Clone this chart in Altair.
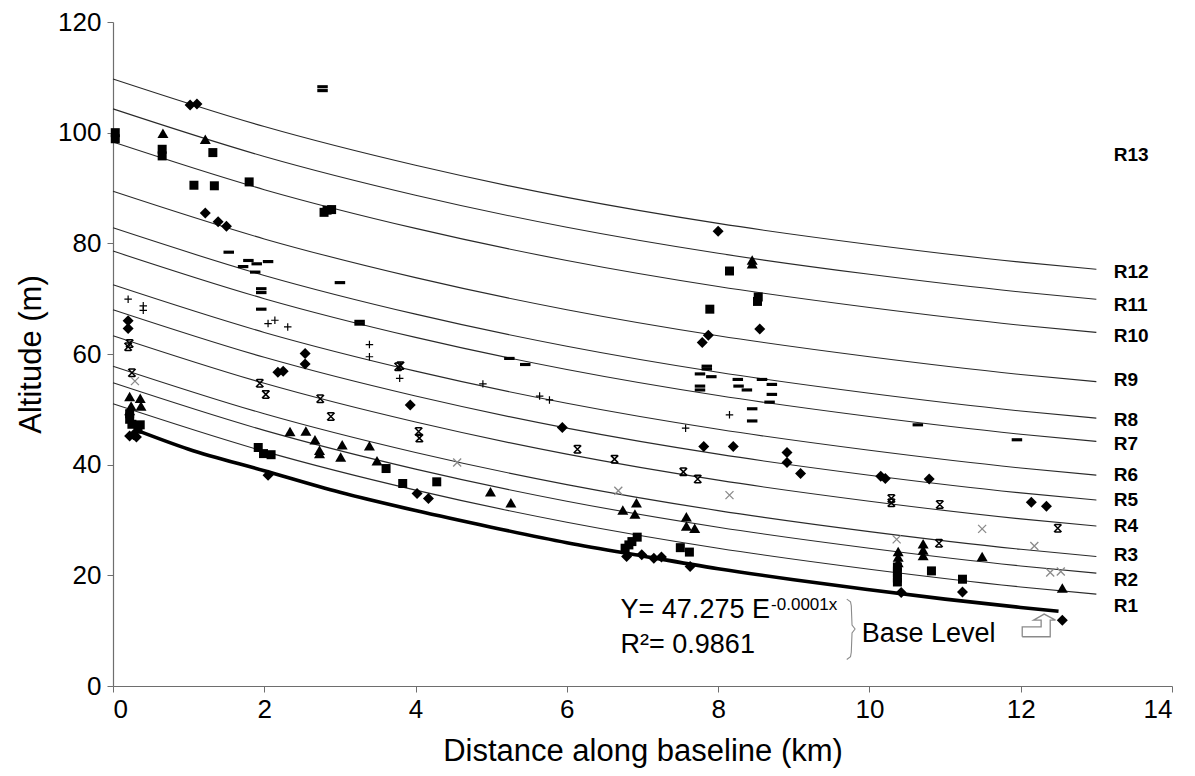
import altair as alt
import pandas as pd

# ---------------- data ----------------
# thin terrace curves R1..R12, sampled at these distances (km)
curve_x = [0, 2, 4, 6, 8, 10, 12, 13]
R1 = [51.0, 42.4, 35.4, 29.6, 24.9, 21.1, 17.9, 16.6]
R2 = [54.8, 46.2, 39.2, 33.4, 28.7, 24.9, 21.7, 20.4]
R3 = [57.8, 49.2, 42.2, 36.4, 31.7, 27.9, 24.7, 23.4]
R4 = [63.3, 54.7, 47.7, 41.9, 37.2, 33.4, 30.2, 28.9]
R5 = [68.0, 59.4, 52.4, 46.6, 41.9, 38.1, 34.9, 33.6]
R6 = [72.5, 63.9, 56.9, 51.1, 46.4, 42.6, 39.4, 38.1]
R7 = [78.6, 70.0, 63.0, 57.2, 52.5, 48.7, 45.5, 44.2]
R8 = [82.8, 74.2, 67.2, 61.4, 56.7, 52.9, 49.7, 48.4]
R9 = [89.4, 80.8, 73.8, 68.0, 63.3, 59.5, 56.3, 55.0]
R10 = [98.3, 89.7, 82.7, 76.9, 72.2, 68.4, 65.2, 63.9]
R11 = [104.3, 95.7, 88.7, 82.9, 78.2, 74.4, 71.2, 69.9]
R12 = [109.7, 101.1, 94.1, 88.3, 83.6, 79.8, 76.6, 75.3]
curve_names = ["R1", "R2", "R3", "R4", "R5", "R6", "R7", "R8", "R9", "R10", "R11", "R12"]
curve_vals = [R1, R2, R3, R4, R5, R6, R7, R8, R9, R10, R11, R12]

# thick base level
base_x = [0.3, 1, 2, 3, 4, 5, 6, 7, 8, 9, 10, 11, 12, 12.5]
base_y = [46.3, 42.8, 38.9, 35.0, 31.7, 28.7, 25.9, 23.5, 21.2, 19.2, 17.4, 15.7, 14.2, 13.5]

# right-hand labels
label_text = ["R13", "R12", "R11", "R10", "R9", "R8", "R7", "R6", "R5", "R4", "R3", "R2", "R1"]
label_y = [96.0, 74.8, 68.9, 63.3, 55.3, 48.1, 43.7, 38.1, 33.6, 28.9, 23.7, 19.2, 14.5]

# markers
diamond_x = [1.02, 1.11, 1.22, 1.39, 1.50, 0.20, 0.20, 2.54, 2.54, 2.18, 2.25, 3.93,
             0.27, 0.31, 0.22, 2.05, 4.02, 4.17, 5.94, 7.81, 8.20, 8.91, 8.91, 9.09,
             10.15, 10.21, 10.79, 12.14, 12.34, 8.55, 7.87, 7.79, 8.00,
             6.79, 6.99, 7.15, 7.25, 7.63, 10.42, 11.23, 12.55]
diamond_y = [105.0, 105.2, 85.5, 83.9, 83.1, 66.0, 64.6, 60.1, 58.2, 56.7, 56.9, 50.8,
             45.4, 45.0, 45.2, 38.1, 34.8, 33.9, 46.7, 43.3, 43.3, 42.2, 40.4, 38.4,
             37.9, 37.5, 37.4, 33.2, 32.5, 64.5, 63.4, 62.1, 82.2,
             23.4, 23.7, 23.1, 23.3, 21.6, 16.9, 17.0, 11.9]

square_x = [0.03, 0.03, 0.65, 0.65, 1.32, 1.07, 1.34, 1.80, 2.79, 2.83, 2.89,
            0.22, 0.22, 0.25, 0.36, 0.33, 1.92, 1.99, 2.09, 3.61, 3.83, 4.28,
            8.52, 8.53, 7.89, 8.15, 6.93, 6.86, 6.82, 6.77, 7.50, 7.62,
            10.37, 10.37, 10.37, 10.37, 10.82, 11.23]
square_y = [100.0, 98.9, 97.0, 95.8, 96.4, 90.5, 90.4, 91.1, 85.6, 86.0, 86.1,
            49.2, 48.2, 47.3, 47.2, 46.4, 43.1, 42.0, 41.8, 39.3, 36.6, 36.9,
            69.5, 70.3, 68.1, 75.0, 26.9, 26.1, 25.5, 24.9, 25.0, 24.2,
            21.5, 20.5, 19.5, 18.8, 20.8, 19.3]

triangle_x = [0.66, 1.22, 0.22, 0.36, 0.24, 0.37, 0.22, 2.34, 2.55, 2.67, 2.73, 2.73,
              3.03, 3.01, 3.39, 3.49, 4.99, 5.26, 6.74, 6.92, 6.90, 7.58, 7.58, 7.69,
              8.45, 8.45, 10.38, 10.38, 10.38, 10.71, 10.71, 10.71, 11.49, 12.55]
triangle_y = [99.9, 98.8, 52.3, 52.0, 50.6, 50.6, 49.8, 46.0, 46.1, 44.5, 42.6, 42.0,
              43.6, 41.4, 43.4, 40.7, 35.1, 33.1, 31.8, 33.1, 31.1, 30.6, 28.9, 28.5,
              77.0, 76.3, 24.3, 23.3, 22.3, 25.7, 24.6, 23.6, 23.4, 17.7]

dash_x = [2.77, 2.77, 1.53, 1.79, 1.90, 2.05, 1.72, 1.88, 3.00, 1.96, 1.96, 1.96, 3.26, 3.26,
          5.24, 5.45, 7.85, 7.85, 7.76, 7.91, 7.76, 7.76, 8.26, 8.27, 8.38, 8.58, 8.71,
          8.71, 8.68, 8.45, 8.45, 10.64, 11.95]
dash_y = [108.3, 107.6, 78.4, 76.9, 76.3, 76.7, 75.8, 74.8, 72.9, 71.8, 71.1, 68.1, 65.9, 65.4,
          59.2, 58.1, 57.8, 57.3, 56.4, 55.9, 54.2, 53.5, 55.4, 54.2, 53.5, 55.4, 54.5,
          52.7, 51.3, 50.1, 47.9, 47.2, 44.5]

plus_x = [0.20, 0.40, 0.40, 2.05, 2.14, 2.31, 3.39, 3.39, 3.79, 4.89, 5.64, 5.77, 8.15, 7.57]
plus_y = [69.9, 68.7, 67.9, 65.5, 66.1, 64.9, 61.7, 59.5, 55.6, 54.6, 52.4, 51.7, 49.0, 46.6]

star_x = [0.22, 0.20, 0.25, 1.94, 2.02, 2.74, 2.88, 3.77, 3.80, 4.04, 4.05, 6.14, 6.63,
          7.54, 7.73, 10.29, 10.29, 10.93, 12.49, 10.92]
star_y = [61.9, 61.3, 56.6, 54.7, 52.7, 51.9, 48.7, 57.7, 57.9, 46.0, 44.8, 42.8, 41.0,
          38.7, 37.4, 33.9, 33.1, 32.8, 28.5, 25.8]

grayx_x = [0.29, 4.55, 6.68, 8.15, 10.36, 11.49, 12.18, 12.39, 12.53]
grayx_y = [55.1, 40.4, 35.3, 34.5, 26.5, 28.4, 25.3, 20.5, 20.7]

# annotation outlines (brace and bent arrow) in data units
brace_x = [9.70, 9.75, 9.76, 9.77, 9.81, 9.77, 9.76, 9.75, 9.70]
brace_y = [15.7, 15.2, 14.5, 11.0, 10.3, 9.6, 6.1, 5.3, 4.8]
arrow_x = [12.02, 12.39, 12.39, 12.46, 12.31, 12.17, 12.27, 12.27, 12.02, 12.02]
arrow_y = [8.9, 8.9, 11.9, 11.9, 13.0, 11.9, 11.9, 10.7, 10.7, 8.9]

# annotation texts
ann_text = ["Y= 47.275 E", "-0.0001x", "R\u00b2= 0.9861", "Base Level"]
ann_x = [6.71, 8.70, 6.71, 9.90]
ann_y = [12.3, 13.8, 5.9, 7.9]
ann_size = [27, 17, 27, 27]

# ---------------- chart ----------------
FONT = "Liberation Sans"
xs = alt.Scale(domain=[0, 14], nice=False, zero=True)
ys = alt.Scale(domain=[0, 120], nice=False, zero=True)
x_enc = alt.X("x:Q", scale=xs, title="Distance along baseline (km)",
              axis=alt.Axis(values=[0, 2, 4, 6, 8, 10, 12, 14], grid=False))
y_enc = alt.Y("y:Q", scale=ys, title="Altitude (m)",
              axis=alt.Axis(values=[0, 20, 40, 60, 80, 100, 120], grid=False))

rows = []
for name, vals in zip(curve_names, curve_vals):
    for xv, yv in zip(curve_x, vals):
        rows.append({"curve": name, "x": xv, "y": yv})
curve_df = pd.DataFrame(rows)

curves = alt.Chart(curve_df).mark_line(color="#2a2a2a", strokeWidth=1.1, interpolate="monotone").encode(
    x=x_enc, y=y_enc, detail="curve:N")

base = alt.Chart(pd.DataFrame({"x": base_x, "y": base_y})).mark_line(
    color="black", strokeWidth=3.6, interpolate="monotone").encode(x=x_enc, y=y_enc)


def pts(xv, yv, shape, size, filled, color, sw=1.0):
    df = pd.DataFrame({"x": xv, "y": yv})
    return alt.Chart(df).mark_point(shape=shape, size=size, filled=filled, color=color,
                                    opacity=1, strokeWidth=sw).encode(x=x_enc, y=y_enc)


DASH = "M-1,-0.3L1,-0.3L1,0.3L-1,0.3Z"
PLUS = "M-1,0L1,0M0,-1L0,1"
STAR = "M-1,-1L1,1M-1,1L1,-1M-0.8,-1L0.8,-1M-0.8,1L0.8,1"
XMARK = "M-1,-1L1,1M-1,1L1,-1"

diam = pts(diamond_x, diamond_y, "diamond", 121, True, "black")
sq = pts(square_x, square_y, "square", 81, True, "black")
tri = pts(triangle_x, triangle_y, "triangle-up", 121, True, "black")
dash = pts(dash_x, dash_y, DASH, 110, True, "black")
plus = pts(plus_x, plus_y, PLUS, 56, False, "black", 1.2)
star = pts(star_x, star_y, STAR, 56, False, "black", 1.5)
grayx = pts(grayx_x, grayx_y, XMARK, 64, False, "#8a8a8a", 1.3)

lab_df = pd.DataFrame({"x": [13.23] * len(label_text), "y": label_y, "t": label_text})
labels = alt.Chart(lab_df).mark_text(font=FONT, fontSize=19, fontWeight="bold", align="left",
                                     baseline="middle", color="black").encode(
    x=x_enc, y=y_enc, text="t:N")

brace = alt.Chart(pd.DataFrame({"x": brace_x, "y": brace_y, "i": list(range(len(brace_x)))})).mark_line(
    color="#8a8a8a", strokeWidth=1.1).encode(x=x_enc, y=y_enc, order="i:Q")
arrow = alt.Chart(pd.DataFrame({"x": arrow_x, "y": arrow_y, "i": list(range(len(arrow_x)))})).mark_line(
    color="#8a8a8a", strokeWidth=1.3).encode(x=x_enc, y=y_enc, order="i:Q")

ann_df = pd.DataFrame({"x": ann_x, "y": ann_y, "t": ann_text, "s": ann_size})
ann = alt.Chart(ann_df).mark_text(font=FONT, align="left", baseline="alphabetic", color="black").encode(
    x=x_enc, y=y_enc, text="t:N", size=alt.Size("s:Q", scale=None, legend=None))

chart = alt.layer(curves, base, sq, tri, diam, dash, plus, star, grayx, labels, brace, arrow, ann).properties(
    width=1059, height=664,
    autosize=alt.AutoSizeParams(type="none"),
    padding={"left": 113, "top": 22, "right": 23, "bottom": 90},
    background="white",
).configure_view(stroke=None).configure_axis(
    labelFont=FONT, titleFont=FONT, labelFontSize=26, titleFontSize=31,
    titleFontWeight="normal", labelColor="black", titleColor="black",
    domainColor="#6e6e6e", tickColor="#6e6e6e", tickSize=6, domainWidth=1.2,
).configure_axisX(labelPadding=4, titlePadding=14).configure_axisY(labelPadding=6, titlePadding=10)

chart.save("out.html", embed_options={"renderer": "svg", "actions": False})
